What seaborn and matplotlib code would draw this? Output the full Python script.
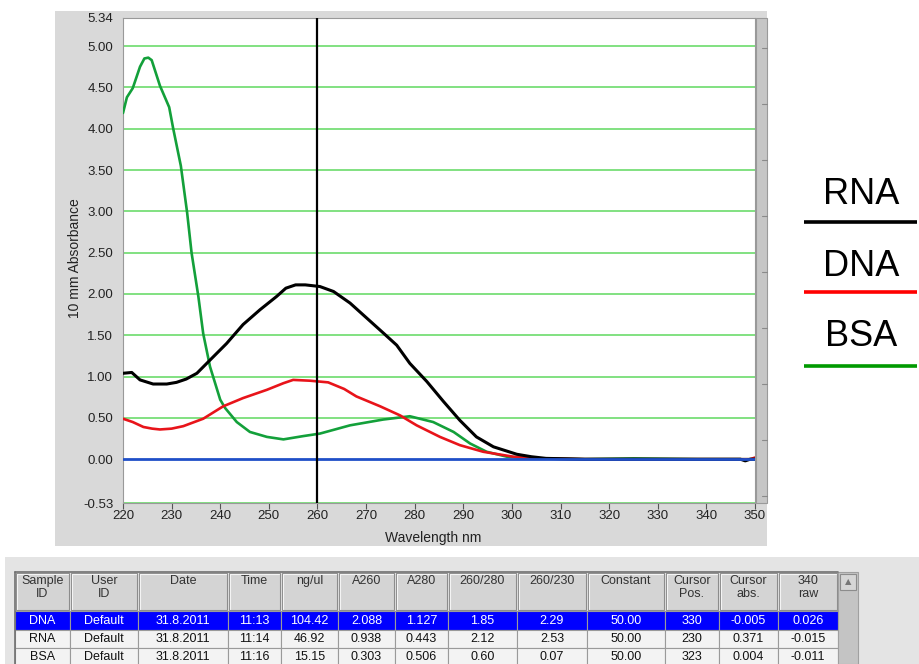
import pandas as pd
import seaborn as sns
import matplotlib.pyplot as plt
from matplotlib.patches import Rectangle

# spectra (wavelength nm, absorbance)
wl_rna = [220, 221.8, 223.5, 226.2, 229, 231, 233, 235.2, 237.9, 241.3, 244.7, 248.2, 251.6,
          253.5, 255.5, 257.5, 260.5, 263.3, 266.7, 270.1, 273.5, 276.3, 279, 282.5, 285.9,
          289.3, 292.7, 296.2, 301, 304, 307, 315, 325, 338, 347, 348, 349, 350]
abs_rna = [1.04, 1.05, 0.96, 0.91, 0.91, 0.93, 0.97, 1.04, 1.20, 1.40, 1.63, 1.81, 1.97,
           2.07, 2.11, 2.11, 2.09, 2.03, 1.89, 1.71, 1.53, 1.38, 1.16, 0.94, 0.70,
           0.47, 0.27, 0.15, 0.06, 0.03, 0.01, 0.0, 0.0, 0.0, 0.0, -0.02, 0.0, 0.0]

wl_dna = [220, 222, 224.2, 226, 227.6, 230, 232.4, 236.5, 240.6, 244.7, 249.6, 253, 255,
          258.5, 262.2, 265.5, 268, 272.9, 277, 280.4, 285.2, 289.3, 294.1, 300.3, 305,
          315, 330, 349, 350]
abs_dna = [0.49, 0.45, 0.39, 0.37, 0.36, 0.37, 0.40, 0.49, 0.64, 0.74, 0.84, 0.92, 0.96,
           0.95, 0.93, 0.85, 0.76, 0.64, 0.53, 0.41, 0.27, 0.17, 0.09, 0.03, 0.01,
           0.0, 0.0, 0.0, 0.02]

wl_bsa = [220, 220.8, 222, 223.5, 224.4, 225.2, 225.9, 227.6, 229.5, 230.3, 231.9, 233.2,
          234.1, 235.5, 236.5, 237.9, 240, 241, 243.4, 246.1, 249.6, 253, 257.1, 260.5,
          266.7, 273.5, 279, 283.8, 288, 291.4, 294.8, 299, 305, 315, 325, 338, 350]
abs_bsa = [4.19, 4.38, 4.49, 4.75, 4.85, 4.86, 4.83, 4.52, 4.26, 4.01, 3.55, 2.98,
           2.50, 1.97, 1.52, 1.12, 0.72, 0.62, 0.45, 0.33, 0.27, 0.24, 0.28, 0.31,
           0.41, 0.48, 0.52, 0.45, 0.33, 0.19, 0.09, 0.03, 0.01, 0.0, 0.01, 0.0, 0.0]

cursor_wl = 260
y_ticks = [-0.53, 0.00, 0.50, 1.00, 1.50, 2.00, 2.50, 3.00, 3.50, 4.00, 4.50, 5.00, 5.34]
x_ticks = [220, 230, 240, 250, 260, 270, 280, 290, 300, 310, 320, 330, 340, 350]

legend_names = ['RNA', 'DNA', 'BSA']

table_header = ['Sample\nID', 'User\nID', 'Date', 'Time', 'ng/ul', 'A260', 'A280',
                '260/280', '260/230', 'Constant', 'Cursor\nPos.', 'Cursor\nabs.', '340\nraw']
table_rows = [
    ['DNA', 'Default', '31.8.2011', '11:13', '104.42', '2.088', '1.127', '1.85', '2.29',
     '50.00', '330', '-0.005', '0.026'],
    ['RNA', 'Default', '31.8.2011', '11:14', '46.92', '0.938', '0.443', '2.12', '2.53',
     '50.00', '230', '0.371', '-0.015'],
    ['BSA', 'Default', '31.8.2011', '11:16', '15.15', '0.303', '0.506', '0.60', '0.07',
     '50.00', '323', '0.004', '-0.011'],
]

df = pd.concat([
    pd.DataFrame({'wl': wl_rna, 'a': abs_rna, 'sample': 'RNA'}),
    pd.DataFrame({'wl': wl_dna, 'a': abs_dna, 'sample': 'DNA'}),
    pd.DataFrame({'wl': wl_bsa, 'a': abs_bsa, 'sample': 'BSA'}),
], ignore_index=True)

sns.set_theme(style='white')
plt.rcParams['font.family'] = ['Liberation Sans', 'DejaVu Sans']

fig = plt.figure(figsize=(9.19, 6.64), dpi=100)

# background layer in pixel units
bg = fig.add_axes([0, 0, 1, 1])
bg.set_xlim(0, 919)
bg.set_ylim(664, 0)
bg.axis('off')
bg.add_patch(Rectangle((55, 11), 712, 535, facecolor='#d9d9d9', edgecolor='none'))
bg.add_patch(Rectangle((756, 18), 11, 485, facecolor='#c6c6c6', edgecolor='#9a9a9a', lw=0.8))
for yy in range(48, 503, 56):
    bg.plot([762, 767], [yy, yy], color='#8a8a8a', lw=0.8)
bg.add_patch(Rectangle((5, 557), 914, 107, facecolor='#e4e4e4', edgecolor='none'))

# spectrum plot
ax = fig.add_axes([123 / 919, 1 - 503 / 664, 632 / 919, 485 / 664])
ax.set_facecolor('white')
for yv in [v for v in y_ticks if v not in (0.0, 5.34)]:
    ax.axhline(yv, color='#5fd85f', lw=1.1, zorder=1)
sns.lineplot(data=df[df['sample'] == 'BSA'], x='wl', y='a', color='#13a03a', lw=1.9,
             sort=False, estimator=None, ax=ax, zorder=3)
sns.lineplot(data=df[df['sample'] == 'DNA'], x='wl', y='a', color='#e8141a', lw=1.9,
             sort=False, estimator=None, ax=ax, zorder=4)
sns.lineplot(data=df[df['sample'] == 'RNA'], x='wl', y='a', color='black', lw=2.2,
             sort=False, estimator=None, ax=ax, zorder=5)
ax.axhline(0, color='#1f4fc8', lw=2.0, zorder=6)
ax.axvline(cursor_wl, color='black', lw=1.6, zorder=7)

ax.set_xlim(220, 350)
ax.set_ylim(-0.53, 5.34)
ax.set_yticks(y_ticks)
ax.set_yticklabels(['%.2f' % v for v in y_ticks])
ax.set_xticks(x_ticks)
ax.tick_params(axis='y', length=0, pad=7, labelsize=9.5, colors='#222222')
ax.tick_params(axis='x', length=4, width=0.8, color='#555555', pad=1,
               labelsize=9.5, labelcolor='#222222', bottom=True)
for s in ax.spines.values():
    s.set_color('#999999')
    s.set_linewidth(0.8)
ax.set_xlabel('Wavelength nm', fontsize=10, color='#222222')
ax.set_ylabel('10 mm Absorbance', fontsize=10, color='#222222')
ax.xaxis.set_label_coords((433 - 123) / 632, -(531 - 503) / 485)
ax.yaxis.set_label_coords(-(123 - 82) / 632, (503 - 258) / 485)

# legend drawn as text with coloured bars
leg_colors = ['black', '#ff0000', '#009a00']
leg_text_y = [194, 267, 336]
leg_line_y = [222, 292, 366]
for name, c, ty, ly in zip(legend_names, leg_colors, leg_text_y, leg_line_y):
    bg.text(861, ty, name, fontsize=26, ha='center', va='center', color='black')
    bg.plot([804, 917], [ly, ly], color=c, lw=2.6, solid_capstyle='butt')

# results table
col_edges = [15, 70, 138, 228, 281, 338, 395, 448, 517, 587, 665, 719, 778, 838]
head_top, head_bot = 572, 611
row_edges = [611, 630, 648, 667]
for i, h in enumerate(table_header):
    x0, x1 = col_edges[i], col_edges[i + 1]
    bg.add_patch(Rectangle((x0 + 1, head_top + 1), x1 - x0 - 2, head_bot - head_top - 2,
                           facecolor='#d4d4d4', edgecolor='#8c8c8c', lw=0.8))
    bg.plot([x0 + 2, x1 - 2], [head_top + 2, head_top + 2], color='#f4f4f4', lw=0.8)
    bg.plot([x0 + 2, x0 + 2], [head_top + 2, head_bot - 2], color='#f4f4f4', lw=0.8)
    bg.text((x0 + x1) / 2, head_top + 3, h, fontsize=9, ha='center', va='top',
            color='#333333', linespacing=1.1)
for r, row in enumerate(table_rows):
    y0, y1 = row_edges[r], row_edges[r + 1]
    face = '#0000ff' if r == 0 else '#f3f3f3'
    tc = 'white' if r == 0 else '#111111'
    for i, val in enumerate(row):
        x0, x1 = col_edges[i], col_edges[i + 1]
        bg.add_patch(Rectangle((x0, y0), x1 - x0, y1 - y0, facecolor=face,
                               edgecolor='#9a9a9a', lw=0.8))
        bg.text((x0 + x1) / 2, (y0 + y1) / 2, val, fontsize=9, ha='center',
                va='center', color=tc)
bg.plot([col_edges[0], col_edges[0]], [head_top, 664], color='#707070', lw=1.2)
bg.plot([col_edges[0], col_edges[-1]], [head_top, head_top], color='#707070', lw=1.2)
# scroll bar column
bg.add_patch(Rectangle((838, head_top), 20, 664 - head_top, facecolor='#c4c4c4',
                       edgecolor='#a0a0a0', lw=0.8))
bg.add_patch(Rectangle((840, 574), 16, 16, facecolor='#d6d6d6', edgecolor='#8c8c8c', lw=0.8))
bg.text(848, 582, '\u25b2', fontsize=6, ha='center', va='center', color='#777777',
        family=['DejaVu Sans'])

fig.savefig('out.png', dpi=100)
